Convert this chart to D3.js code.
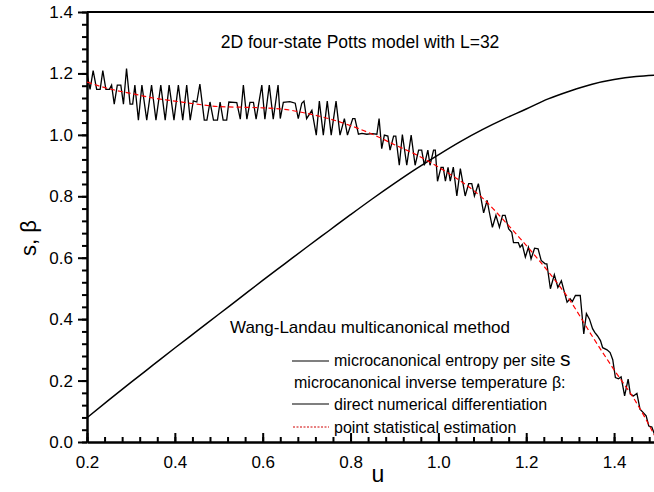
<!DOCTYPE html>
<html lang="en">
<head>
    <meta charset="UTF-8">
    <title>Potts model entropy and inverse temperature</title>
    <style>
        body {
            margin: 0;
            padding: 0;
            background: #fff;
        }

        text {
            font-family: "Liberation Sans", Arial, sans-serif;
            fill: #000;
        }

        .axis path, .axis line {
            stroke: #000;
            stroke-width: 2;
        }

        .axis text {
            font-size: 17px;
            font-family: "Liberation Sans", Arial, sans-serif;
        }
    </style>
</head>
<body>
<svg id="chart"></svg>

<script src="https://d3js.org/d3.v7.min.js"></script>
<script>
    // microcanonical entropy per site s(u)
    var entropyU = [0.2, 0.25, 0.3, 0.35, 0.4, 0.45, 0.5, 0.55, 0.6, 0.65, 0.7, 0.75, 0.8, 0.85,
        0.9, 0.95, 1.0, 1.05, 1.1, 1.15, 1.2, 1.25, 1.3, 1.35, 1.4, 1.45, 1.5];
    var entropyS = [0.079, 0.137, 0.194, 0.250, 0.306, 0.361, 0.416, 0.471, 0.526, 0.580, 0.634, 0.687,
        0.740, 0.792, 0.842, 0.890, 0.935, 0.978, 1.017, 1.052, 1.084, 1.117, 1.143, 1.165, 1.180, 1.190, 1.195];

    // point statistical estimation of beta (red dashed)
    var estimU = [0.2, 0.25, 0.3, 0.35, 0.4, 0.45, 0.5, 0.55, 0.6, 0.65, 0.7, 0.75, 0.8, 0.85,
        0.9, 0.95, 1.0, 1.05, 1.1, 1.15, 1.2, 1.25, 1.3, 1.35, 1.4, 1.45, 1.5];
    var estimBeta = [1.172, 1.150, 1.135, 1.120, 1.110, 1.100, 1.092, 1.090, 1.088, 1.083, 1.070, 1.053,
        1.030, 1.002, 0.968, 0.935, 0.895, 0.850, 0.795, 0.720, 0.640, 0.555, 0.460, 0.345, 0.235, 0.130, 0.0];

    // direct numerical differentiation of beta (black, noisy) - vertices
    var diffU = [0.200, 0.207, 0.214, 0.222, 0.230, 0.236, 0.243, 0.251, 0.256, 0.262, 0.269, 0.277, 0.283,
        0.290, 0.298, 0.304, 0.309, 0.317, 0.325, 0.336, 0.347, 0.357, 0.368, 0.378, 0.387, 0.398, 0.408,
        0.418, 0.427, 0.435, 0.442, 0.450, 0.457, 0.467, 0.473, 0.480, 0.488, 0.497, 0.503, 0.510, 0.518,
        0.523, 0.541, 0.549, 0.556, 0.564, 0.571, 0.579, 0.585, 0.598, 0.605, 0.615, 0.624, 0.635, 0.640,
        0.647, 0.662, 0.674, 0.681, 0.689, 0.694, 0.700, 0.712, 0.722, 0.729, 0.738, 0.747, 0.756, 0.767,
        0.776, 0.786, 0.793, 0.805, 0.810, 0.818, 0.826, 0.837, 0.849, 0.860, 0.865, 0.871, 0.877, 0.885,
        0.890, 0.898, 0.903, 0.911, 0.918, 0.928, 0.938, 0.947, 0.955, 0.962, 0.968, 0.976, 0.981, 0.989,
        0.993, 0.998, 1.006, 1.011, 1.016, 1.022, 1.027, 1.034, 1.042, 1.050, 1.061, 1.069, 1.076, 1.082,
        1.091, 1.103, 1.111, 1.116, 1.123, 1.131, 1.139, 1.146, 1.152, 1.160, 1.167, 1.171, 1.182, 1.186,
        1.191, 1.198, 1.205, 1.211, 1.219, 1.227, 1.234, 1.243, 1.247, 1.255, 1.264, 1.272, 1.280, 1.293,
        1.300, 1.305, 1.312, 1.323, 1.331, 1.337, 1.344, 1.351, 1.356, 1.362, 1.369, 1.374, 1.384, 1.391,
        1.397, 1.403, 1.410, 1.416, 1.424, 1.432, 1.437, 1.444, 1.452, 1.459, 1.467, 1.473, 1.479, 1.486,
        1.492, 1.498];
    var diffBeta = [1.200, 1.148, 1.209, 1.148, 1.148, 1.209, 1.148, 1.148, 1.162, 1.100, 1.162, 1.162, 1.100,
        1.216, 1.100, 1.100, 1.162, 1.048, 1.162, 1.048, 1.162, 1.048, 1.162, 1.048, 1.162, 1.048, 1.162,
        1.048, 1.162, 1.048, 1.111, 1.107, 1.165, 1.048, 1.048, 1.107, 1.048, 1.048, 1.107, 1.048, 1.048,
        1.107, 1.105, 1.051, 1.162, 1.051, 1.106, 1.106, 1.051, 1.162, 1.051, 1.162, 1.051, 1.162, 1.053,
        1.106, 1.108, 1.103, 1.053, 1.103, 1.110, 1.053, 1.080, 0.999, 1.110, 0.999, 1.110, 0.999, 1.110,
        0.999, 1.053, 0.999, 1.053, 1.053, 1.002, 1.005, 1.002, 1.004, 1.002, 1.053, 0.955, 0.999, 0.996,
        0.950, 0.996, 0.996, 0.901, 1.001, 0.901, 0.999, 0.901, 0.950, 0.950, 0.901, 0.950, 0.901, 0.950,
        0.950, 0.849, 0.894, 0.894, 0.849, 0.894, 0.849, 0.895, 0.801, 0.890, 0.801, 0.841, 0.841, 0.801,
        0.841, 0.746, 0.787, 0.748, 0.699, 0.738, 0.699, 0.738, 0.738, 0.694, 0.683, 0.649, 0.649, 0.634,
        0.643, 0.602, 0.634, 0.596, 0.631, 0.629, 0.591, 0.580, 0.580, 0.499, 0.545, 0.503, 0.525, 0.455,
        0.466, 0.457, 0.477, 0.477, 0.352, 0.418, 0.400, 0.369, 0.357, 0.346, 0.330, 0.307, 0.300, 0.291,
        0.268, 0.210, 0.206, 0.212, 0.150, 0.205, 0.156, 0.150, 0.158, 0.107, 0.095, 0.085, 0.052, 0.049,
        0.025, 0.010];

    var xTicks = [0.2, 0.4, 0.6, 0.8, 1.0, 1.2, 1.4];
    var yTicks = [0.0, 0.2, 0.4, 0.6, 0.8, 1.0, 1.2, 1.4];

    var width = 654, height = 492;

    var svg = d3.select("#chart")
        .attr("width", width)
        .attr("height", height);

    svg.append("rect")
        .attr("width", width)
        .attr("height", height)
        .attr("fill", "#fff");

    var x = d3.scaleLinear().domain([0.2, 1.5]).range([87, 658]);
    var y = d3.scaleLinear().domain([0, 1.4]).range([442, 12]);

    // minor ticks every 0.04
    var xMinor = d3.range(0.2, 1.5001, 0.04);
    var yMinor = d3.range(0, 1.4001, 0.04);

    svg.append("g")
        .attr("class", "axis")
        .attr("transform", "translate(0," + y(0) + ")")
        .call(d3.axisBottom(x).tickValues(xMinor).tickSizeInner(-5).tickSizeOuter(0).tickFormat(""));

    svg.append("g")
        .attr("class", "axis")
        .attr("transform", "translate(0," + y(0) + ")")
        .call(d3.axisBottom(x).tickValues(xTicks).tickSizeInner(-9).tickSizeOuter(0).tickPadding(14)
            .tickFormat(d3.format(".1f")));

    svg.append("g")
        .attr("class", "axis")
        .attr("transform", "translate(" + x(0.2) + ",0)")
        .call(d3.axisLeft(y).tickValues(yMinor).tickSizeInner(5).tickSizeOuter(0).tickFormat(""));

    svg.append("g")
        .attr("class", "axis")
        .attr("transform", "translate(" + x(0.2) + ",0)")
        .call(d3.axisLeft(y).tickValues(yTicks).tickSizeInner(9).tickSizeOuter(0).tickPadding(5)
            .tickFormat(d3.format(".1f")));

    // top frame line
    svg.append("line")
        .attr("x1", x(0.2)).attr("x2", x(1.5))
        .attr("y1", y(1.4)).attr("y2", y(1.4))
        .attr("stroke", "#000")
        .attr("stroke-width", 2);

    var line = d3.line()
        .x(function (d) { return x(d[0]); })
        .y(function (d) { return y(d[1]); });

    var smooth = d3.line()
        .x(function (d) { return x(d[0]); })
        .y(function (d) { return y(d[1]); })
        .curve(d3.curveMonotoneX);

    svg.append("path")
        .datum(d3.zip(entropyU, entropyS))
        .attr("d", smooth)
        .attr("fill", "none")
        .attr("stroke", "#000")
        .attr("stroke-width", 1.5);

    svg.append("path")
        .datum(d3.zip(diffU, diffBeta))
        .attr("d", line)
        .attr("fill", "none")
        .attr("stroke", "#000")
        .attr("stroke-width", 1.3)
        .attr("stroke-linejoin", "miter");

    svg.append("path")
        .datum(d3.zip(estimU, estimBeta))
        .attr("d", smooth)
        .attr("fill", "none")
        .attr("stroke", "#ff0000")
        .attr("stroke-width", 1.2)
        .attr("stroke-dasharray", "5,3");

    // texts
    svg.append("text")
        .attr("x", 360).attr("y", 48)
        .attr("text-anchor", "middle")
        .style("font-size", "17.5px")
        .text("2D four-state Potts model with L=32");

    svg.append("text")
        .attr("x", 370).attr("y", 333)
        .attr("text-anchor", "middle")
        .style("font-size", "17px")
        .text("Wang-Landau multicanonical method");

    svg.append("text")
        .attr("x", 378).attr("y", 482)
        .attr("text-anchor", "middle")
        .style("font-size", "23px")
        .text("u");

    svg.append("text")
        .attr("transform", "translate(36,238) rotate(-90)")
        .attr("text-anchor", "middle")
        .style("font-size", "22px")
        .text("s, \u03b2");

    // legend
    var legend = svg.append("g").style("font-size", "16px");

    legend.append("line")
        .attr("x1", 292).attr("x2", 329).attr("y1", 361).attr("y2", 361)
        .attr("stroke", "#000").attr("stroke-width", 1.2);
    var t1 = legend.append("text").attr("x", 334).attr("y", 366);
    t1.append("tspan").text("microcanonical entropy per site ");
    t1.append("tspan").style("font-size", "21px").text("s");

    legend.append("text").attr("x", 294).attr("y", 388)
        .text("microcanonical inverse temperature \u03b2:");

    legend.append("line")
        .attr("x1", 292).attr("x2", 329).attr("y1", 404).attr("y2", 404)
        .attr("stroke", "#000").attr("stroke-width", 1.2);
    legend.append("text").attr("x", 334).attr("y", 410)
        .text("direct numerical differentiation");

    legend.append("line")
        .attr("x1", 293).attr("x2", 329).attr("y1", 427).attr("y2", 427)
        .attr("stroke", "#d00000").attr("stroke-width", 1)
        .attr("stroke-dasharray", "2,1.5");
    legend.append("text").attr("x", 334).attr("y", 433)
        .text("point statistical estimation");
</script>
</body>
</html>
